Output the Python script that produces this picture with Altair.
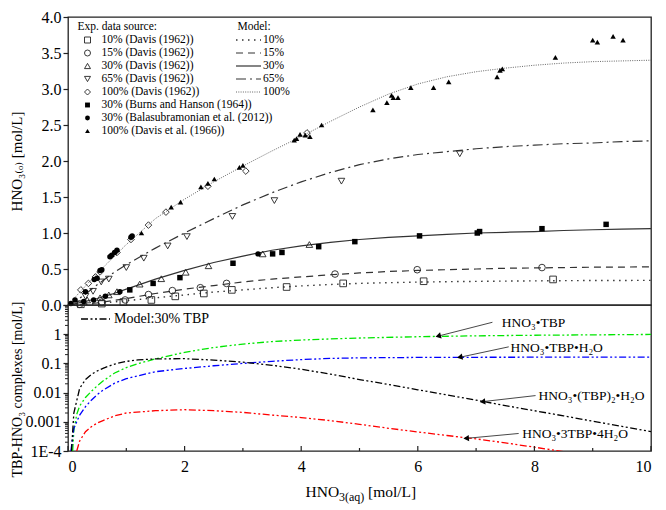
import altair as alt
import pandas as pd

FONT = "Liberation Serif, Times New Roman, DejaVu Serif, serif"
W, H1, H2 = 583, 288, 146

# ---------------- top panel: model curves ----------------
model_x = [0, 0.25, 0.5, 0.75, 1.0, 1.5, 2.0, 2.5, 3.0, 3.5, 4.0, 4.5, 5.0,
           5.5, 6.0, 6.5, 7.0, 7.5, 8.0, 8.5, 9.0, 9.5, 10.0]
model_10 = [0, 0.005, 0.02, 0.04, 0.06, 0.10, 0.14, 0.18, 0.21, 0.24, 0.265, 0.285,
            0.30, 0.31, 0.318, 0.324, 0.328, 0.332, 0.335, 0.338, 0.34, 0.341, 0.342]
model_15 = [0, 0.01, 0.03, 0.06, 0.09, 0.16, 0.22, 0.27, 0.32, 0.36, 0.39, 0.42,
            0.445, 0.465, 0.48, 0.49, 0.50, 0.51, 0.515, 0.52, 0.525, 0.527, 0.53]
model_30 = [0, 0.04, 0.09, 0.15, 0.22, 0.36, 0.48, 0.59, 0.68, 0.76, 0.82, 0.87,
            0.91, 0.94, 0.96, 0.98, 1.0, 1.01, 1.02, 1.035, 1.045, 1.055, 1.06]
model_65 = [0, 0.12, 0.28, 0.43, 0.56, 0.79, 1.0, 1.2, 1.39, 1.56, 1.71, 1.84,
            1.95, 2.03, 2.09, 2.13, 2.17, 2.2, 2.22, 2.24, 2.25, 2.27, 2.28]
model_100 = [0, 0.22, 0.44, 0.64, 0.84, 1.2, 1.47, 1.71, 1.93, 2.14, 2.34, 2.55,
             2.75, 2.93, 3.07, 3.17, 3.24, 3.29, 3.33, 3.36, 3.38, 3.39, 3.40]

# ---------------- top panel: experimental data ----------------
d10_x = [0.22, 0.58, 0.95, 1.43, 1.84, 2.33, 2.81, 3.75, 4.72, 6.10, 8.32]
d10_y = [0.01, 0.02, 0.04, 0.07, 0.12, 0.16, 0.21, 0.25, 0.30, 0.33, 0.355]
d15_x = [0.2, 0.58, 0.98, 1.38, 1.79, 2.27, 2.72, 4.58, 5.99, 8.13]
d15_y = [0.01, 0.04, 0.07, 0.145, 0.20, 0.24, 0.30, 0.43, 0.49, 0.52]
d30_x = [0.33, 0.55, 0.70, 0.84, 1.23, 1.60, 2.02, 2.41, 3.34, 4.14]
d30_y = [0.07, 0.10, 0.14, 0.185, 0.29, 0.365, 0.455, 0.545, 0.71, 0.84]
d65_x = [0.3, 0.43, 0.57, 0.70, 1.0, 1.30, 1.71, 2.04, 2.82, 3.54, 4.69, 6.72]
d65_y = [0.12, 0.19, 0.32, 0.36, 0.52, 0.65, 0.82, 0.95, 1.23, 1.45, 1.72, 2.10]
d100_x = [0.22, 0.35, 0.47, 0.55, 0.84, 1.08, 1.38, 1.68, 2.40, 3.05, 4.10]
d100_y = [0.21, 0.30, 0.39, 0.46, 0.73, 0.91, 1.11, 1.29, 1.65, 1.86, 2.39]
burns_x = [1.06, 1.46, 1.92, 2.83, 3.51, 3.67, 4.30, 4.92, 6.03, 7.02, 7.06, 8.13, 9.23]
burns_y = [0.21, 0.30, 0.38, 0.58, 0.71, 0.73, 0.81, 0.88, 0.96, 1.00, 1.02, 1.06, 1.12]
bala_x = [0.05, 0.12, 0.30, 0.45, 0.50, 0.55, 0.58, 0.72, 0.75, 0.80, 0.84, 1.08, 1.10,
          0.27, 0.44, 0.64, 0.89, 3.26]
bala_y = [0.02, 0.07, 0.185, 0.355, 0.37, 0.48, 0.49, 0.67, 0.69, 0.73, 0.76, 0.94, 0.96,
          0.05, 0.07, 0.12, 0.185, 0.71]
davis66_x = [1.26, 1.77, 1.93, 2.28, 2.40, 2.51, 2.94, 3.00, 3.88, 3.92, 3.98, 4.07, 4.15,
             4.35, 5.23, 5.47, 5.55, 5.58, 5.66, 5.88, 6.27, 6.53, 7.36, 7.41, 7.45, 8.36,
             9.00, 9.08, 9.35, 9.52]
davis66_y = [1.00, 1.36, 1.43, 1.64, 1.69, 1.75, 1.91, 1.94, 2.29, 2.31, 2.37, 2.36, 2.34,
             2.50, 2.71, 2.81, 2.91, 2.88, 2.88, 3.02, 3.02, 3.10, 3.17, 3.26, 3.28, 3.44,
             3.68, 3.65, 3.73, 3.68]

exp_labels = ["10% (Davis (1962))", "15% (Davis (1962))", "30% (Davis (1962))",
              "65% (Davis (1962))", "100% (Davis (1962))", "30% (Burns and Hanson (1964))",
              "30% (Balasubramonian et al. (2012))", "100% (Davis et al. (1966))"]
model_labels = ["10%", "15%", "30%", "65%", "100%"]

# ---------------- bottom panel: complexes ----------------
blk_x = [0.06, 0.1, 0.2, 0.3, 0.4, 0.5, 0.6, 0.8, 1.0, 1.2, 1.5, 2.0, 2.5, 3.0, 3.5, 4.0,
         4.5, 5.0, 5.5, 6.0, 6.5, 7.0, 7.5, 8.0, 8.5, 9.0, 9.5, 10.0]
blk_y = [1e-4, 0.002, 0.014, 0.028, 0.042, 0.055, 0.068, 0.095, 0.117, 0.132, 0.143, 0.145,
         0.13, 0.11, 0.086, 0.063, 0.043, 0.028, 0.019, 0.0125, 0.0083, 0.0055, 0.0036,
         0.0024, 0.0016, 0.00105, 0.0007, 0.00046]
grn_x = [0.08, 0.1, 0.15, 0.2, 0.3, 0.4, 0.5, 0.6, 0.8, 1.0, 1.2, 1.5, 2.0, 2.5, 3.0, 3.5,
         4.0, 4.5, 5.0, 6.0, 7.0, 8.0, 9.0, 10.0]
grn_y = [1e-4, 5e-4, 0.0018, 0.0035, 0.0068, 0.011, 0.017, 0.025, 0.047, 0.072, 0.098, 0.143,
         0.24, 0.35, 0.46, 0.56, 0.63, 0.69, 0.74, 0.82, 0.88, 0.92, 0.95, 0.98]
blu_x = [0.05, 0.1, 0.2, 0.3, 0.4, 0.5, 0.6, 0.8, 1.0, 1.5, 2.0, 2.5, 3.0, 3.5, 4.0, 4.5,
         5.0, 6.0, 7.0, 8.0, 9.0, 10.0]
blu_y = [1e-4, 6e-4, 0.0017, 0.0033, 0.0055, 0.0085, 0.012, 0.021, 0.03, 0.052, 0.067, 0.083,
         0.1, 0.118, 0.135, 0.148, 0.155, 0.16, 0.162, 0.163, 0.163, 0.163]
red_x = [0.15, 0.2, 0.3, 0.4, 0.5, 0.6, 0.8, 1.0, 1.5, 2.0, 2.5, 3.0, 3.5, 4.0, 4.5, 5.0,
         5.5, 6.0, 6.5, 7.0, 7.5, 8.0, 8.5, 9.0]
red_y = [1e-4, 2.2e-4, 4.6e-4, 6.8e-4, 9e-4, 0.0011, 0.0016, 0.002, 0.0024, 0.0026, 0.0024,
         0.0021, 0.0017, 0.0014, 0.0011, 0.00082, 0.0006, 0.00045, 0.00034, 0.00026, 0.00019,
         0.000135, 9.5e-5, 7e-5]

ann_text = ["HNO₃•TBP", "HNO₃•TBP•H₂O", "HNO₃•(TBP)₂•H₂O", "HNO₃•3TBP•4H₂O"]
ann_tx = [7.44, 7.59, 8.07, 7.79]
ann_ty = [2.51, 0.349, 0.0075, 3.7e-4]
arr_x1 = [7.28, 7.56, 8.02, 7.73]
arr_y1 = [2.56, 0.369, 0.0079, 3.98e-4]
arr_x2 = [6.35, 6.72, 7.11, 6.83]
arr_y2 = [0.86, 0.162, 0.0049, 2.71e-4]
arr_ang = [345, 348, 353, 355]

x_major = [0, 2, 4, 6, 8, 10]
x_minor = [1, 3, 5, 7, 9]
log_minor = [k * 10.0 ** e for e in range(-4, 1) for k in range(2, 10)]

# ---------------- encodings ----------------
dummy = pd.DataFrame({"a": [0]})
xscale = alt.Scale(domain=[0, 10], nice=False, zero=False)
X_top = alt.X("x:Q", scale=xscale, axis=None)
Y_top = alt.Y("y:Q", scale=alt.Scale(domain=[0, 4], nice=False),
              axis=alt.Axis(values=[0, 0.5, 1, 1.5, 2, 2.5, 3, 3.5, 4], format=".1f",
                            title="HNO₃₍ₒ₎ [mol/L]", titleX=-44, titleFontSize=15,
                            labelFontSize=16, tickSize=5, grid=False, domain=False,
                            labelPadding=2))

bot_xaxis = alt.Axis(values=x_major, ticks=False, domain=False, labelFontSize=16,
                     labelPadding=7, title=None, grid=False, format="d")
X_bot = alt.X("x:Q", scale=xscale, axis=bot_xaxis)
logscale = alt.Scale(type="log", domain=[1e-4, 10], nice=False)
Y_bot = alt.Y("y:Q", scale=logscale,
              axis=alt.Axis(values=[1e-4, 1e-3, 1e-2, 0.1, 1, 10],
                            labelExpr="datum.value < 0.0005 ? '1E-4' : datum.value < 0.005 ? '0.001' : datum.value < 0.05 ? '0.01' : datum.value < 0.5 ? '0.1' : datum.value < 5 ? '1' : ''",
                            title="TBP-HNO₃ complexes [mol/L]", titleX=-44, titleY=84,
                            titleFontSize=14, labelFontSize=16, tickSize=5, grid=False,
                            domain=False, labelPadding=2))


def df(xs, ys):
    return pd.DataFrame({"x": xs, "y": ys})


def txt(text, x, y, size=11.5, align="left"):
    return alt.Chart(dummy).mark_text(text=text, font=FONT, fontSize=size, align=align,
                                      baseline="middle", color="black").encode(
        x=alt.value(x), y=alt.value(y))


top_layers = []
line_styles = [
    (model_10, dict(strokeDash=[1.5, 4.5], strokeWidth=1.4, color="#333")),
    (model_15, dict(strokeDash=[7, 5], strokeWidth=1.2, color="#333")),
    (model_30, dict(strokeWidth=1.2, color="#333")),
    (model_65, dict(strokeDash=[10, 4, 2, 4], strokeWidth=1.2, color="#333")),
    (model_100, dict(strokeDash=[1, 1.3], strokeWidth=0.9, color="#555")),
]
for ys, st in line_styles:
    top_layers.append(alt.Chart(df(model_x, ys)).mark_line(**st).encode(x=X_top, y=Y_top))

pt_styles = [
    (d10_x, d10_y, "square", False), (d15_x, d15_y, "circle", False),
    (d30_x, d30_y, "triangle-up", False), (d65_x, d65_y, "triangle-down", False),
    (d100_x, d100_y, "diamond", False), (burns_x, burns_y, "square", True),
    (bala_x, bala_y, "circle", True), (davis66_x, davis66_y, "triangle-up", True),
]
for xs, ys, shp, filled in pt_styles:
    if filled:
        mk = alt.Chart(df(xs, ys)).mark_point(shape=shp, filled=True, size=30, color="black", opacity=1)
    else:
        mk = alt.Chart(df(xs, ys)).mark_point(shape=shp, filled=False, size=44, color="#222",
                                              strokeWidth=0.9, opacity=1)
    top_layers.append(mk.encode(x=X_top, y=Y_top))

# manual legends in the top panel
top_layers.append(txt("Exp. data source:", 9.5, 10))
for i, (lab, (_, _, shp, filled)) in enumerate(zip(exp_labels, pt_styles)):
    yy = 23 + 13 * i
    if filled:
        m = alt.Chart(dummy).mark_point(shape=shp, filled=True, size=24, color="black", opacity=1)
    else:
        m = alt.Chart(dummy).mark_point(shape=shp, filled=False, size=36, color="#222",
                                        strokeWidth=0.9, opacity=1)
    top_layers.append(m.encode(x=alt.value(19.5), y=alt.value(yy)))
    top_layers.append(txt(lab, 33.5, yy))

top_layers.append(txt("Model:", 169.5, 10))
for i, (lab, (_, st)) in enumerate(zip(model_labels, line_styles)):
    yy = 23 + 13 * i
    top_layers.append(alt.Chart(dummy).mark_rule(**st).encode(
        x=alt.value(168), x2=alt.value(193), y=alt.value(yy)))
    top_layers.append(txt(lab, 195, yy))

top = alt.layer(*top_layers).properties(width=W, height=H1)

# ---------------- bottom ----------------
bot_layers = []
dash = [7, 2.5, 2, 2.5, 2, 2.5]
for xs, ys, col in [(grn_x, grn_y, "#00e600"), (blu_x, blu_y, "#0000ff"),
                    (red_x, red_y, "#ff0000"), (blk_x, blk_y, "#000000")]:
    bot_layers.append(alt.Chart(df(xs, ys)).mark_line(
        color=col, strokeDash=dash, strokeWidth=1.3, clip=True).encode(x=X_bot, y=Y_bot))

# inside x ticks
bot_layers.append(alt.Chart(pd.DataFrame({"x": x_major})).mark_rule(color="#222", strokeWidth=1.2).encode(
    x=X_bot, y=alt.value(H2), y2=alt.value(H2 - 5)))
bot_layers.append(alt.Chart(pd.DataFrame({"x": x_minor})).mark_rule(color="#222", strokeWidth=1.2).encode(
    x=X_bot, y=alt.value(H2), y2=alt.value(H2 - 3)))
# minor log ticks (outside, left)
bot_layers.append(alt.Chart(pd.DataFrame({"y": log_minor})).mark_rule(color="#222", strokeWidth=1).encode(
    y=Y_bot, x=alt.value(-3), x2=alt.value(0)))

ann = pd.DataFrame({"label": ann_text, "tx": ann_tx, "ty": ann_ty, "x": arr_x1, "y": arr_y1,
                    "x2": arr_x2, "y2": arr_y2, "ang": arr_ang})
bot_layers.append(alt.Chart(ann).mark_rule(color="#333", strokeWidth=0.9).encode(
    x=X_bot, y=Y_bot, x2="x2:Q", y2="y2:Q"))
bot_layers.append(alt.Chart(ann).mark_point(shape="triangle-left", filled=True, size=40,
                                             color="black", opacity=1).encode(
    x=alt.X("x2:Q", scale=xscale, axis=bot_xaxis),
    y=alt.Y("y2:Q", scale=logscale),
    angle=alt.Angle("ang:Q", scale=None)))
bot_layers.append(alt.Chart(ann).mark_text(font=FONT, fontSize=13.5, align="left",
                                            baseline="middle", color="black").encode(
    x=alt.X("tx:Q", scale=xscale, axis=bot_xaxis),
    y=alt.Y("ty:Q", scale=logscale),
    text="label:N"))

# legend of bottom panel
bot_layers.append(alt.Chart(dummy).mark_rule(color="black", strokeDash=dash, strokeWidth=1.3).encode(
    x=alt.value(13), x2=alt.value(42), y=alt.value(14)))
bot_layers.append(txt("Model:30% TBP", 46, 14, size=14))

# x-axis title with subscript
x0 = W / 2 - 54
ty = H2 + 41
bot_layers.append(txt("HNO", x0, ty, size=15.5))
bot_layers.append(txt("3(aq)", x0 + 33.5, ty + 5, size=12))
bot_layers.append(txt("[mol/L]", x0 + 33.5 + 25 + 4, ty, size=15.5))

bottom = alt.layer(*bot_layers).properties(width=W, height=H2)

chart = alt.vconcat(top, bottom, spacing=0, bounds="flush").properties(
    padding=0
).configure_view(stroke="#222", strokeWidth=1.3).configure_axis(
    labelFont=FONT, titleFont=FONT, labelColor="black", titleColor="black",
    tickColor="#222", titleFontWeight="normal", tickWidth=1.2
)

chart.save("out.html", embed_options={"renderer": "svg", "actions": False})
